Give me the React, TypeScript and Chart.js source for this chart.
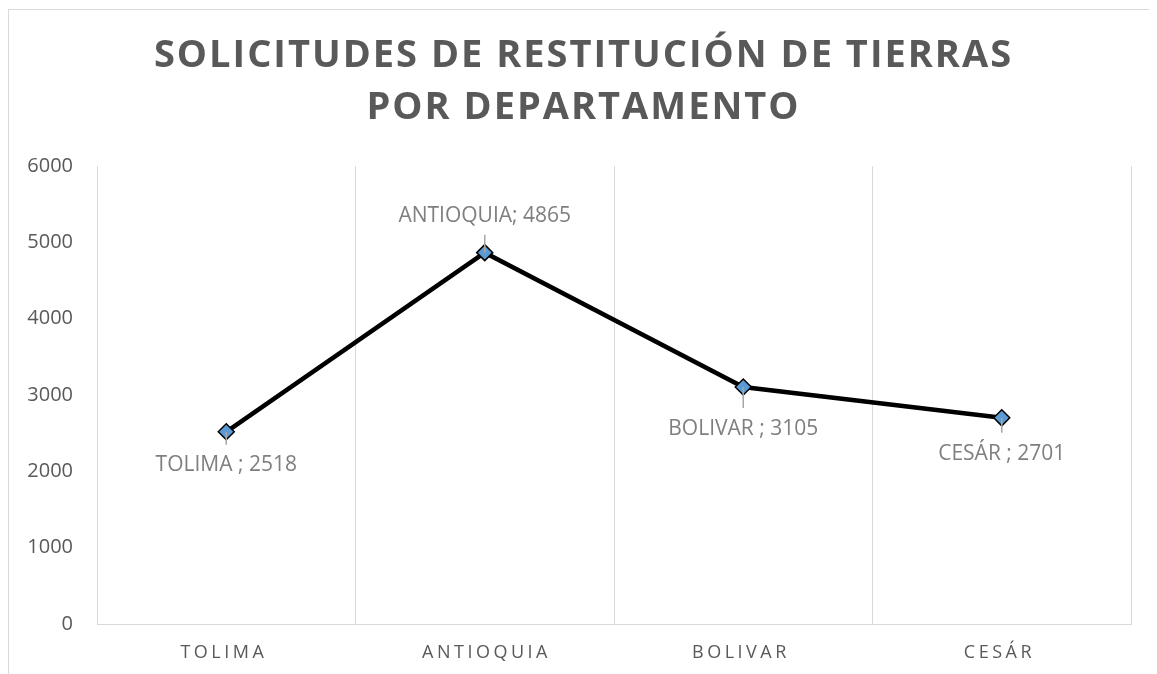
import React, { useEffect, useRef } from 'react';
import { Chart, registerables } from 'chart.js';

Chart.register(...registerables);

// ---- data ----
const categories = ['TOLIMA ', 'ANTIOQUIA', 'BOLIVAR ', 'CESÁR '];
const solicitudes = [2518, 4865, 3105, 2701];
const titleLines = ['SOLICITUDES DE RESTITUCIÓN DE TIERRAS', 'POR DEPARTAMENTO'];
const yMin = 0;
const yMax = 6000;
const yStep = 1000;

// ---- styling / placement (not data) ----
const W = 1149;
const H = 666;
const FONT = '"Open Sans", "Noto Sans", sans-serif';
const TITLE_SPACING = 2;
const X_SPACING = 3.5;
const labelOffsets = [
  { dy: 33, leader: 13 },
  { dy: -37, leader: -18 },
  { dy: 42, leader: 21 },
  { dy: 36, leader: 15 },
];

const framePlugin = {
  id: 'frame',
  beforeDraw(chart: any) {
    const { ctx, width, height } = chart;
    ctx.save();
    ctx.fillStyle = '#d9d9d9';
    ctx.fillRect(0, 1, width, 1);
    ctx.fillRect(0, 1, 1, height);
    ctx.restore();
  },
};

const titlePlugin = {
  id: 'spacedTitle',
  afterDraw(chart: any) {
    const { ctx, width } = chart;
    ctx.save();
    ctx.font = `bold 38px ${FONT}`;
    (ctx as any).letterSpacing = `${TITLE_SPACING}px`;
    ctx.fillStyle = '#595959';
    ctx.textAlign = 'center';
    ctx.textBaseline = 'middle';
    titleLines.forEach((line, i) => {
      ctx.fillText(line, width / 2 + TITLE_SPACING / 2, 48.5 + i * 52);
    });
    ctx.restore();
  },
};

const xSpacingPlugin = {
  id: 'xSpacing',
  beforeDraw(chart: any) {
    const s: any = chart.scales.x;
    if (s && !s.__spaced) {
      const orig = s.drawLabels;
      s.drawLabels = function (area: any) {
        const ctx = this.ctx;
        ctx.save();
        ctx.letterSpacing = `${X_SPACING}px`;
        ctx.translate(X_SPACING / 2, 0);
        orig.call(this, area);
        ctx.restore();
      };
      s.__spaced = true;
    }
  },
};

const dataLabelPlugin = {
  id: 'dataLabels',
  afterDatasetsDraw(chart: any) {
    const { ctx } = chart;
    const meta = chart.getDatasetMeta(0);
    ctx.save();
    meta.data.forEach((pt: any, i: number) => {
      const off = labelOffsets[i];
      const x = pt.x;
      const y = pt.y;
      ctx.strokeStyle = '#a6a6a6';
      ctx.lineWidth = 1.5;
      ctx.beginPath();
      ctx.moveTo(x, y);
      ctx.lineTo(x, y + off.leader);
      ctx.stroke();
      ctx.font = `21px ${FONT}`;
      (ctx as any).letterSpacing = '0px';
      ctx.fillStyle = '#7f7f7f';
      ctx.textAlign = 'center';
      ctx.textBaseline = 'middle';
      ctx.fillText(`${categories[i]}; ${solicitudes[i]}`, x, y + off.dy);
    });
    ctx.restore();
  },
};

export default function App() {
  const ref = useRef<HTMLCanvasElement | null>(null);

  useEffect(() => {
    document.documentElement.style.overflow = 'hidden';
    const canvas = ref.current;
    if (!canvas) return;
    const chart = new Chart(canvas, {
      type: 'line',
      data: {
        labels: categories,
        datasets: [
          {
            label: 'Solicitudes',
            data: solicitudes,
            borderColor: '#000000',
            borderWidth: 4.5,
            tension: 0,
            fill: false,
            pointStyle: 'rectRot',
            pointRadius: 8,
            pointBorderWidth: 1.5,
            pointBorderColor: '#000000',
            pointBackgroundColor: '#5b9bd5',
          },
        ],
      },
      options: {
        responsive: false,
        animation: false,
        events: [],
        layout: { padding: { top: 158, right: 26, bottom: 0, left: 0 } },
        plugins: {
          legend: { display: false },
          title: { display: false },
          tooltip: { enabled: false },
        },
        scales: {
          x: {
            offset: true,
            grid: { display: true, offset: true, color: '#d9d9d9', lineWidth: 1, drawTicks: false },
            border: { display: true, color: '#d9d9d9', width: 1 },
            ticks: { color: '#595959', font: { family: FONT, size: 18 }, padding: 18 },
            afterFit: (s: any) => {
              s.height = 50;
            },
          },
          y: {
            min: yMin,
            max: yMax,
            grid: { display: false, drawTicks: false },
            border: { display: false },
            ticks: {
              stepSize: yStep,
              color: '#595959',
              font: { family: FONT, size: 20 },
              padding: 24,
              callback: (v: any) => String(v),
            },
            afterFit: (s: any) => {
              s.width = 89;
            },
          },
        },
      },
      plugins: [framePlugin, xSpacingPlugin, dataLabelPlugin, titlePlugin],
    });
    return () => chart.destroy();
  }, []);

  return <canvas ref={ref} width={W} height={H} style={{ display: 'block', width: W, height: H }} />;
}
